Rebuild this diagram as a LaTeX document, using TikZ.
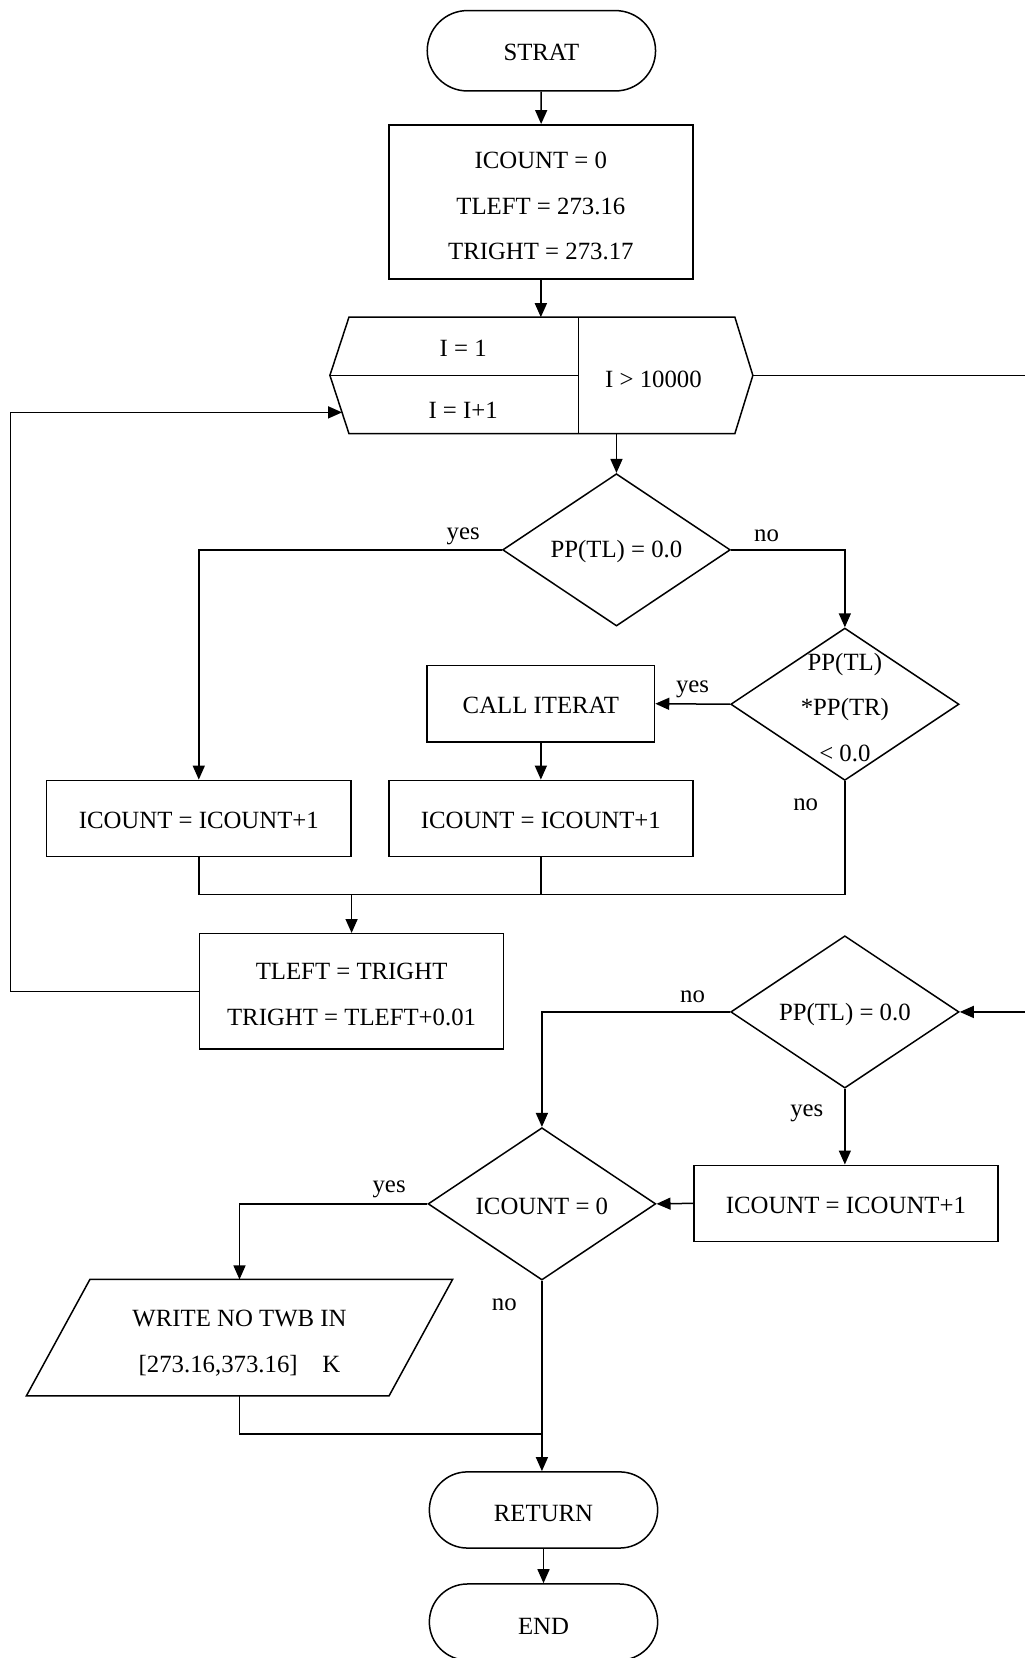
\documentclass[tikz,border=0pt]{standalone}
\usepackage{fontspec}
\setmainfont{Liberation Serif}
\usetikzlibrary{shapes.geometric,shapes.misc,arrows.meta,calc}
\begin{document}
\begin{tikzpicture}[x=0.5289pt,y=-0.5289pt,
  line width=0.75pt,
  font=\fontsize{12.4}{22.8}\selectfont,
  every node/.style={inner sep=0pt, align=center},
  arr/.style={-{Triangle[length=7pt,width=6pt]}},
  term/.style={draw, rounded rectangle, minimum width=114.2pt, minimum height=38.1pt},
  proc/.style={draw, rectangle, minimum width=152.1pt, minimum height=38.1pt},
  dec/.style={draw, diamond, minimum width=113.9pt, minimum height=76.2pt},
  tag/.style={font=\fontsize{12.4}{14}\selectfont}
]
\useasboundingbox (0,0) rectangle (969,1568);

% terminals and process boxes
\node[term, minimum height=40.2pt] (start) at (512,48) {};
\node (startt) at (512,50) {STRAT};
\node[proc, minimum height=77.2pt] (init) at (511.5,191) {};
\node (initt) at (511.5,195) {ICOUNT = 0\\TLEFT = 273.16\\TRIGHT = 273.17};

% loop header (hexagon with split cells)
\coordinate (hxtl) at (330,300);
\coordinate (hxtr) at (695,300);
\coordinate (hxr)  at (712,355);
\coordinate (hxbr) at (695,410);
\coordinate (hxbl) at (330,410);
\coordinate (hxl)  at (312,355);
\coordinate (hxmt) at (547,300);
\coordinate (hxmb) at (547,410);
\coordinate (hxm)  at (547,355);
\coordinate (hxtop) at (511.5,300);
\coordinate (hxbot) at (583,410);
\coordinate (hxin) at (323.5,390);
\draw (hxtl) -- (hxtr) -- (hxr) -- (hxbr) -- (hxbl) -- (hxl) -- cycle;
\draw (hxmt) -- (hxmb);
\draw (hxl) -- (hxm);
\node (iinit) at (438,329) {I = 1};
\node (iinc)  at (438,388) {I = I+1};
\node (ilim)  at (618,359) {I > 10000};

% decisions inside the loop
\node[dec] (d1) at (583,520) {};
\node (d1t) at (583,522) {PP(TL) = 0.0};
\node[dec, minimum width=114.2pt] (d2) at (799,666) {};
\node (d2t) at (799,669) {PP(TL)\\*PP(TR)\\< 0.0};
\node[proc, minimum width=113.7pt] (call) at (511.5,665.5) {};
\node (callt) at (511.5,667) {CALL ITERAT};
\node[proc] (cl) at (188,774) {};
\node (clt) at (188,776) {ICOUNT = ICOUNT+1};
\node[proc] (cr) at (511.5,774) {};
\node (crt) at (511.5,776) {ICOUNT = ICOUNT+1};
\node[proc, minimum height=57.6pt] (tl) at (332.5,937.5) {};
\node (tlt) at (332.5,940.5) {TLEFT = TRIGHT\\TRIGHT = TLEFT+0.01};

% after the loop
\node[dec, minimum width=114.2pt] (d3) at (799,957) {};
\node (d3t) at (799,959) {PP(TL) = 0.0};
\node[proc] (b3) at (800,1138) {};
\node (b3t) at (800,1140) {ICOUNT = ICOUNT+1};
\node[dec] (d4) at (512.5,1138.5) {};
\node (d4t) at (512.5,1141) {ICOUNT = 0};

% output parallelogram
\coordinate (ptl) at (85,1210);
\coordinate (ptr) at (428,1210);
\coordinate (pbr) at (368,1320);
\coordinate (pbl) at (25,1320);
\coordinate (ptop) at (226.5,1210);
\coordinate (pbot) at (226.5,1320);
\draw (ptl) -- (ptr) -- (pbr) -- (pbl) -- cycle;
\node (wr) at (226.5,1270) {WRITE NO TWB IN\\{[273.16,373.16]\hspace{1em}K}};

\node[term] (ret) at (514,1428) {};
\node (rett) at (514,1431) {RETURN};
\node[term] (endn) at (514,1534) {};
\node (endt) at (514,1538) {END};

% branch labels
\node[tag] (y1) at (438,507) {yes};
\node[tag] (n1) at (725,507) {no};
\node[tag] (y2) at (655,652) {yes};
\node[tag] (n2) at (762,761) {no};
\node[tag] (n3) at (655,943) {no};
\node[tag] (y3) at (763,1053) {yes};
\node[tag] (y4) at (368,1125) {yes};
\node[tag] (n4) at (477,1234) {no};

% junction and routing points
\coordinate (j) at (332.5,846);
\coordinate (loop) at (10,390);
\coordinate (rt) at (972,355);
\coordinate (mg) at (512.5,1356);

% connectors
\draw[arr] (start) -- (init);
\draw[arr] (init) -- (hxtop);
\draw[arr] (hxbot) -- (d1.north);
\draw[arr] (d1.west) -| (cl.north);
\draw[arr] (d1.east) -| (d2.north);
\draw[arr] (d2.west) -- (call.east);
\draw[arr] (call) -- (cr);
\draw (cl.south) |- (j);
\draw (cr.south) -- (cr.south |- j);
\draw (d2.south) |- (j);
\draw[arr] (j) -- (tl.north);
\draw[arr] (tl.west) -| (loop) -- (hxin);
\draw[arr] (hxr) -- (rt) |- (d3.east);
\draw[arr] (d3.west) -| (d4.north);
\draw[arr] (d3.south) -- (d3.south |- b3.north);
\draw[arr] (b3.west) -- (d4.east);
\draw[arr] (d4.west) -| (ptop);
\draw[arr] (d4.south) -- (d4.south |- ret.north);
\draw (pbot) |- (mg);
\draw[arr] (ret) -- (endn);
\end{tikzpicture}
\end{document}
